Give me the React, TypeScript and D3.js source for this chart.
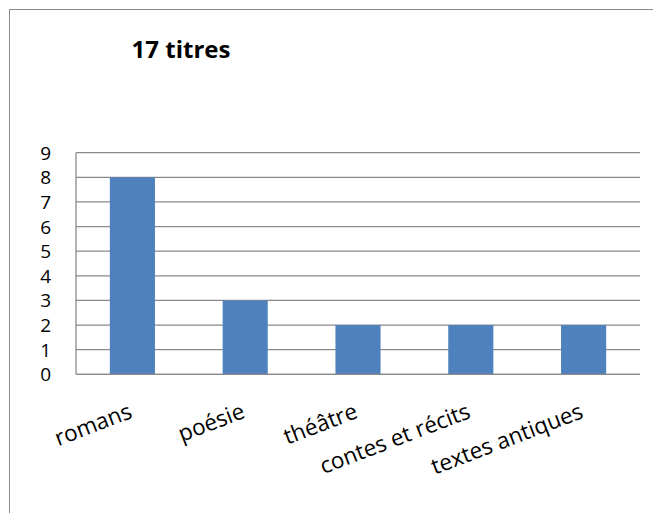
import React from "react";
import * as d3 from "d3";

const categories = ["romans", "poésie", "théâtre", "contes et récits", "textes antiques"];
const values = [8, 3, 2, 2, 2];
const yTicks = [0, 1, 2, 3, 4, 5, 6, 7, 8, 9];
const title = "17 titres";

const W = 653;
const H = 513;
const plot = { left: 76, right: 640, top: 152.7, bottom: 374.3 };
const FONT = "'Open Sans', 'Liberation Sans', sans-serif";

export default function App() {
  const x = d3
    .scaleBand<string>()
    .domain(categories)
    .range([plot.left, plot.right])
    .paddingInner(0.6)
    .paddingOuter(0.3);
  const y = d3.scaleLinear().domain([0, 9]).range([plot.bottom, plot.top]);
  const center = (c: string) => (x(c) as number) + x.bandwidth() / 2;

  return (
    <svg
      width={W}
      height={H}
      style={{ position: "absolute", left: 0, top: 0, background: "#fff" }}
    >
      <rect x={0} y={0} width={W} height={H} fill="#fff" />
      <rect x={9.5} y={9.5} width={W + 10} height={H + 10} fill="none" stroke="#8c8c8c" strokeWidth={1} />
      <text
        x={181}
        y={58}
        textAnchor="middle"
        fontFamily={FONT}
        fontWeight="bold"
        fontSize={24}
        fill="#000"
      >
        {title}
      </text>
      {yTicks.map((t) => (
        <g key={t}>
          <line
            x1={plot.left}
            x2={plot.right}
            y1={y(t)}
            y2={y(t)}
            stroke="#8a8a8a"
            strokeWidth={1.3}
          />
          <text
            x={51}
            y={y(t)}
            dy="0.37em"
            textAnchor="end"
            fontFamily={FONT}
            fontSize={19}
            fill="#000"
          >
            {t}
          </text>
        </g>
      ))}
      <line x1={plot.left} x2={plot.left} y1={plot.top} y2={plot.bottom} stroke="#8a8a8a" strokeWidth={1.3} />
      {categories.map((c, i) => (
        <rect
          key={c}
          x={x(c)}
          y={y(values[i])}
          width={x.bandwidth()}
          height={y(0) - y(values[i])}
          fill="#4F81BD"
        />
      ))}
      <line x1={plot.left} x2={plot.right} y1={y(0)} y2={y(0)} stroke="#8a8a8a" strokeWidth={1.3} />
      {categories.map((c) => (
        <text
          key={c}
          transform={`translate(${center(c) + 1},${y(0) + 43}) rotate(-21)`}
          textAnchor="end"
          fontFamily={FONT}
          fontSize={22.5}
          fill="#000"
        >
          {c}
        </text>
      ))}
    </svg>
  );
}
